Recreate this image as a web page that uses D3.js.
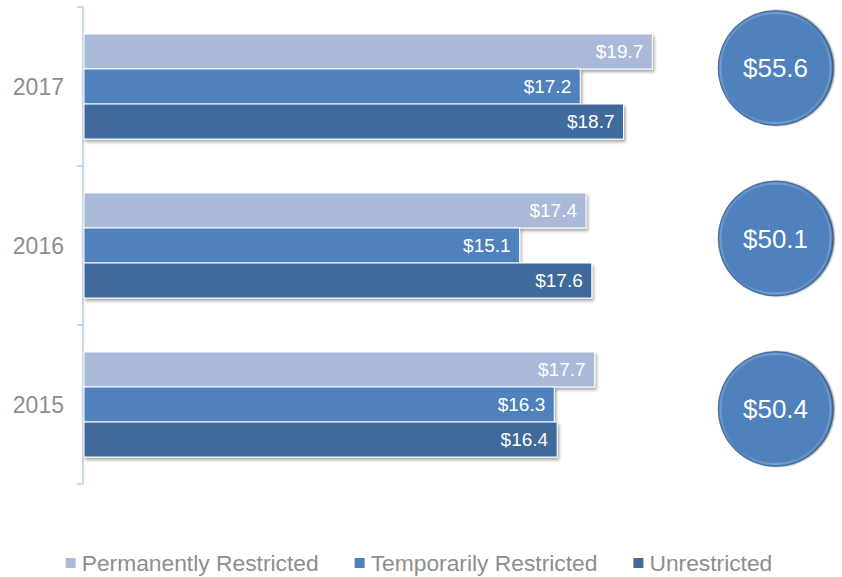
<!DOCTYPE html>
<html>
<head>
<meta charset="utf-8">
<script src="https://cdn.jsdelivr.net/npm/d3@7"></script>
<style>
  html, body { margin: 0; padding: 0; background: #fff; }
  svg { display: block; font-family: "Liberation Sans", Arial, sans-serif; }
</style>
</head>
<body>
<svg id="chart" width="842" height="577"></svg>
<script>
// Data
const years = ['2017', '2016', '2015'];
const series = ['Permanently Restricted', 'Temporarily Restricted', 'Unrestricted'];
const permanent = [19.7, 17.4, 17.7];
const temporary = [17.2, 15.1, 16.3];
const unrestricted = [18.7, 17.6, 16.4];
const totals = [55.6, 50.1, 50.4];
const colors = ['#aabad8', '#4f81bd', '#41699c'];

const values = [permanent, temporary, unrestricted];

const svg = d3.select('#chart');
const width = 842;

// Scales
const y = d3.scaleBand().domain(years).range([7, 484]);
const y1 = d3.scaleBand().domain(series).range([0, y.bandwidth()]).paddingOuter(0.77);
const x = d3.scaleLinear().domain([0, 20]).range([84, 661]);
const yc = d3.scalePoint().domain(years).range([68, 409]);

// Filters / gradients
const defs = svg.append('defs');
const shadow = defs.append('filter').attr('id', 'shadow')
  .attr('x', '-5%').attr('y', '-20%').attr('width', '110%').attr('height', '160%');
shadow.append('feDropShadow')
  .attr('dx', 1.5).attr('dy', 2.5).attr('stdDeviation', 1.6)
  .attr('flood-color', '#000').attr('flood-opacity', 0.35);

const blur = defs.append('filter').attr('id', 'blur');
blur.append('feGaussianBlur').attr('stdDeviation', 1.2);

const ring = defs.append('linearGradient').attr('id', 'ring')
  .attr('x1', '0%').attr('y1', '0%').attr('x2', '100%').attr('y2', '100%');
ring.append('stop').attr('offset', '0%').attr('stop-color', '#4f81bd');
ring.append('stop').attr('offset', '25%').attr('stop-color', '#8fb2dd');
ring.append('stop').attr('offset', '50%').attr('stop-color', '#4f81bd');
ring.append('stop').attr('offset', '75%').attr('stop-color', '#8fb2dd');
ring.append('stop').attr('offset', '100%').attr('stop-color', '#4f81bd');

// Axis
const axis = svg.append('g')
  .attr('transform', 'translate(83,0)')
  .call(d3.axisLeft(y).tickValues([]).tickSizeOuter(0));
axis.select('.domain').remove();
const bounds = [7, ...years.map(yr => y(yr) + y.bandwidth())];
axis.append('line').attr('x1', 0).attr('x2', 0).attr('y1', 7).attr('y2', 484)
  .attr('stroke', '#b8c9e6').attr('stroke-width', 1.5);
axis.selectAll('.tk').data(bounds).enter().append('line')
  .attr('class', 'tk')
  .attr('x1', -6).attr('x2', 0)
  .attr('y1', d => d).attr('y2', d => d)
  .attr('stroke', '#b8c9e6').attr('stroke-width', 1.5);

// Year labels
svg.append('g').selectAll('text')
  .data(years).enter().append('text')
  .attr('x', 64)
  .attr('y', d => y(d) + y.bandwidth() / 2)
  .attr('dy', '0.35em')
  .attr('text-anchor', 'end')
  .attr('font-size', 23)
  .attr('fill', '#8e8e8e')
  .text(d => d);

// Bars
const groups = svg.append('g').selectAll('g')
  .data(years).enter().append('g')
  .attr('transform', d => `translate(0,${y(d)})`);

groups.each(function(yr, i) {
  const g = d3.select(this);
  const rows = series.map((s, j) => ({ s, v: values[j][i], c: colors[j] }));
  g.selectAll('rect').data(rows).enter().append('rect')
    .attr('x', x(0))
    .attr('y', d => y1(d.s))
    .attr('width', d => x(d.v) - x(0))
    .attr('height', y1.bandwidth())
    .attr('fill', d => d.c)
    .attr('stroke', '#fff')
    .attr('stroke-width', 1)
    .attr('filter', 'url(#shadow)');
  g.selectAll('text').data(rows).enter().append('text')
    .attr('x', d => x(d.v) - 9)
    .attr('y', d => y1(d.s) + y1.bandwidth() / 2)
    .attr('dy', '0.35em')
    .attr('text-anchor', 'end')
    .attr('font-size', 19)
    .attr('fill', '#fff')
    .text(d => '$' + d.v.toFixed(1));
});

// Total bubbles
const bubbles = svg.append('g').selectAll('g')
  .data(years).enter().append('g')
  .attr('transform', d => `translate(775.5,${yc(d)})`);

bubbles.append('circle')
  .attr('r', 57)
  .attr('fill', '#1a2c44')
  .attr('transform', 'translate(1.5,0)')
  .attr('filter', 'url(#blur)');
bubbles.append('circle')
  .attr('r', 57.5)
  .attr('fill', '#4f81bd')
  .attr('stroke', 'rgba(40,60,90,0.55)')
  .attr('stroke-width', 0.8);
bubbles.append('circle')
  .attr('r', 55)
  .attr('fill', 'none')
  .attr('stroke', 'url(#ring)')
  .attr('stroke-width', 2)
  .attr('opacity', 0.6);
bubbles.append('text')
  .attr('text-anchor', 'middle')
  .attr('dy', '0.35em')
  .attr('font-size', 26)
  .attr('fill', '#fff')
  .text((d, i) => '$' + totals[i].toFixed(1));

// Legend
const legend = svg.append('g').attr('transform', 'translate(0,571)');
const items = legend.selectAll('g')
  .data(series).enter().append('g');
items.append('rect')
  .attr('y', -13).attr('width', 10).attr('height', 10)
  .attr('fill', (d, i) => colors[i]);
items.append('text')
  .attr('x', 16)
  .attr('font-size', 22.8)
  .attr('fill', '#8e8e8e')
  .text(d => d);

const widths = [];
items.each(function() {
  widths.push(16 + d3.select(this).select('text').node().getComputedTextLength());
});
const gap = 36;
const total = d3.sum(widths) + gap * (widths.length - 1);
let offset = (width - total) / 2 - 2;
items.attr('transform', (d, i) => {
  const t = `translate(${offset},0)`;
  offset += widths[i] + gap;
  return t;
});
</script>
</body>
</html>
